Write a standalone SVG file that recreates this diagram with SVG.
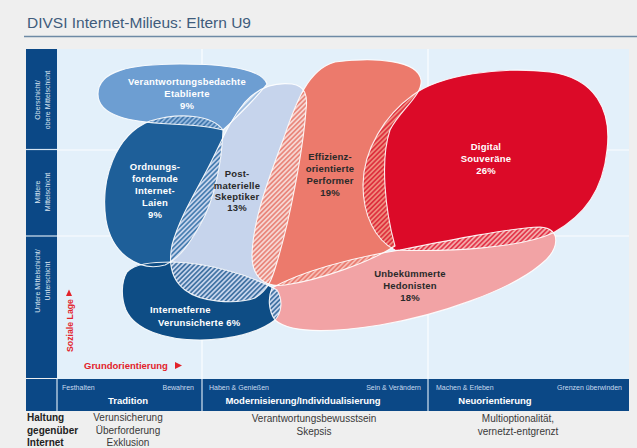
<svg xmlns="http://www.w3.org/2000/svg" width="637" height="448" viewBox="0 0 637 448">
<style>
text{font-family:"Liberation Sans",Arial,sans-serif}
.lbl{font-size:9.5px;font-weight:bold;text-anchor:middle;letter-spacing:0.2px}
.w{fill:#ffffff}
.d{fill:#2a2a2a}
.side{font-size:7px;fill:#dce7f3;text-anchor:middle}
.sm{font-size:7px;fill:#c9dbef}
.hd{font-size:9.5px;font-weight:bold;fill:#ffffff;text-anchor:middle}
.bt{font-size:10px;fill:#3a3a3a;text-anchor:middle}
.bb{font-size:10px;font-weight:bold;fill:#222222}
.red{fill:#e2232a;font-weight:bold;font-size:9.5px}
.ol{fill:none;stroke:#ffffff;stroke-width:1.1;stroke-opacity:0.9}
.grid{stroke:#ffffff;stroke-width:1.2;stroke-opacity:0.85}
.sep{stroke:#d6e4f2;stroke-width:1.2}
</style>
<defs>
<path id="pE" d="M267,84 C262,69 225,64 180,64 C130,64 98,71 98,94 C98,116 130,122 170,124 C195,125 212,127 223,130 C238,116 256,98 267,84 Z"/>
<path id="pL" d="M223,130 C222,160 215,200 200,225 C190,243 180,258 165,265 C140,272 112,255 106,220 C100,180 115,135 150,121 C180,112 212,115 223,130 Z"/>
<path id="pP" d="M292,84 C305,86 308,95 306,110 C303,150 290,220 277,262 C272,280 268,290 255,298 C235,305 200,302 185,290 C172,280 168,265 172,245 C180,215 200,185 212,160 C222,140 230,120 245,102 C258,88 275,82 292,84 Z"/>
<path id="pF" d="M335,62 C375,57 418,60 421,80 C423,95 400,110 390,130 C380,160 385,210 395,246 C370,262 320,280 285,285 C262,288 252,275 252,255 C253,220 268,180 283,140 C293,112 305,70 335,62 Z"/>
<path id="pD" d="M413,95 C440,75 500,66 550,72 C595,78 612,110 607,150 C603,190 585,215 553,233 C520,248 450,252 395,250 C375,240 363,215 363,185 C363,150 385,115 413,95 Z"/>
<path id="pH" d="M272,288 C300,272 350,258 400,250 C450,240 510,228 540,227 C562,228 560,250 540,265 C510,290 440,315 380,325 C330,333 290,333 275,320 C268,310 268,297 272,288 Z"/>
<path id="pI" d="M127,272 C135,264 150,262 172,262 C210,263 250,275 277,290 C283,300 282,312 275,320 C258,333 230,340 200,340 C165,340 135,330 126,310 C121,298 121,282 127,272 Z"/>
<clipPath id="cE"><use href="#pE"/></clipPath>
<clipPath id="cL"><use href="#pL"/></clipPath>
<clipPath id="cP"><use href="#pP"/></clipPath>
<clipPath id="cF"><use href="#pF"/></clipPath>
<clipPath id="cD"><use href="#pD"/></clipPath>
<clipPath id="cH"><use href="#pH"/></clipPath>
<clipPath id="cI"><use href="#pI"/></clipPath>
<pattern id="hEL" width="3.4" height="3.4" patternUnits="userSpaceOnUse" patternTransform="rotate(45)"><rect width="3.4" height="3.4" fill="#93b7de"/><line x1="1.7" y1="0" x2="1.7" y2="3.4" stroke="#2c68a2" stroke-width="1.3"/></pattern>
<pattern id="hEP" width="3.4" height="3.4" patternUnits="userSpaceOnUse" patternTransform="rotate(45)"><rect width="3.4" height="3.4" fill="#9dbde0"/><line x1="1.7" y1="0" x2="1.7" y2="3.4" stroke="#eef3fa" stroke-width="1.3"/></pattern>
<pattern id="hLP" width="3.4" height="3.4" patternUnits="userSpaceOnUse" patternTransform="rotate(45)"><rect width="3.4" height="3.4" fill="#c6d4ec"/><line x1="1.7" y1="0" x2="1.7" y2="3.4" stroke="#2466a0" stroke-width="1.3"/></pattern>
<pattern id="hPF" width="3.4" height="3.4" patternUnits="userSpaceOnUse" patternTransform="rotate(45)"><rect width="3.4" height="3.4" fill="#f6d6d2"/><line x1="1.7" y1="0" x2="1.7" y2="3.4" stroke="#e56f62" stroke-width="1.3"/></pattern>
<pattern id="hFD" width="3.4" height="3.4" patternUnits="userSpaceOnUse" patternTransform="rotate(45)"><rect width="3.4" height="3.4" fill="#ef8a7c"/><line x1="1.7" y1="0" x2="1.7" y2="3.4" stroke="#d9142c" stroke-width="1.3"/></pattern>
<pattern id="hDH" width="3.4" height="3.4" patternUnits="userSpaceOnUse" patternTransform="rotate(45)"><rect width="3.4" height="3.4" fill="#f4aaa9"/><line x1="1.7" y1="0" x2="1.7" y2="3.4" stroke="#de1530" stroke-width="1.3"/></pattern>
<pattern id="hFH" width="3.4" height="3.4" patternUnits="userSpaceOnUse" patternTransform="rotate(45)"><rect width="3.4" height="3.4" fill="#f6bbb3"/><line x1="1.7" y1="0" x2="1.7" y2="3.4" stroke="#e5695c" stroke-width="1.3"/></pattern>
<pattern id="hPI" width="3.4" height="3.4" patternUnits="userSpaceOnUse" patternTransform="rotate(45)"><rect width="3.4" height="3.4" fill="#c6d4ec"/><line x1="1.7" y1="0" x2="1.7" y2="3.4" stroke="#1b568e" stroke-width="1.3"/></pattern>
</defs>

<rect x="0" y="0" width="637" height="448" fill="#efefef"/>
<text x="27" y="28" font-size="15.5" fill="#3f5c7c">DIVSI Internet-Milieus: Eltern U9</text>
<line x1="24" y1="36.5" x2="637" y2="36.5" stroke="#6d8aa5" stroke-width="1.5"/>

<g id="frame">
<rect x="57" y="49" width="572" height="330" fill="#e3f0fa"/>
<line class="grid" x1="57" y1="150" x2="629" y2="150"/>
<line class="grid" x1="57" y1="236" x2="629" y2="236"/>
<line class="grid" x1="202" y1="49" x2="202" y2="379"/>
<line class="grid" x1="428" y1="49" x2="428" y2="379"/>
<rect x="26" y="49" width="31" height="329" fill="#0b4886"/>
<line class="sep" x1="26" y1="149.5" x2="57" y2="149.5"/>
<line class="sep" x1="26" y1="236" x2="57" y2="236"/>
<text class="side" transform="translate(40,100) rotate(-90)">Oberschicht/</text>
<text class="side" transform="translate(49.5,100) rotate(-90)">obere Mittelschicht</text>
<text class="side" transform="translate(40,192) rotate(-90)">Mittlere</text>
<text class="side" transform="translate(49.5,192) rotate(-90)">Mittelschicht</text>
<text class="side" transform="translate(40,281) rotate(-90)">Untere Mittelschicht/</text>
<text class="side" transform="translate(49.5,281) rotate(-90)">Unterschicht</text>
<text class="red" transform="translate(73,352) rotate(-90)" textLength="53" lengthAdjust="spacingAndGlyphs">Soziale Lage</text>
<polygon points="66,296 72,296 69,289.5" fill="#e2232a"/>
<text class="red" x="84" y="369">Grundorientierung</text>
<polygon points="175,362 175,369 182,365.5" fill="#e2232a"/>
</g>

<g id="n-etablierte"><use href="#pE" fill="#6d9ed2"/></g>
<g id="n-postmaterielle"><use href="#pP" fill="#c6d4ec"/></g>
<g id="n-laien"><use href="#pL" fill="#1e5f99"/></g>
<g id="n-performer"><use href="#pF" fill="#ec7a6c"/></g>
<g id="n-souveraene"><use href="#pD" fill="#dc0a28"/></g>
<g id="n-hedonisten"><use href="#pH" fill="#f2a3a5"/></g>
<g id="n-internetferne"><use href="#pI" fill="#0e4d85"/></g>

<g id="overlaps">
<use href="#pL" fill="url(#hEL)" clip-path="url(#cE)"/>
<use href="#pP" fill="url(#hEP)" clip-path="url(#cE)"/>
<use href="#pL" fill="url(#hLP)" clip-path="url(#cP)"/>
<use href="#pF" fill="url(#hPF)" clip-path="url(#cP)"/>
<use href="#pF" fill="url(#hFD)" clip-path="url(#cD)"/>
<use href="#pH" fill="url(#hDH)" clip-path="url(#cD)"/>
<use href="#pH" fill="url(#hFH)" clip-path="url(#cF)"/>
<use href="#pI" fill="url(#hPI)" clip-path="url(#cP)"/>
<use href="#pI" fill="url(#hPI)" clip-path="url(#cH)"/>
</g>

<g id="outlines">
<use href="#pE" class="ol"/><use href="#pL" class="ol"/><use href="#pP" class="ol"/><use href="#pF" class="ol"/><use href="#pD" class="ol"/><use href="#pH" class="ol"/><use href="#pI" class="ol"/>
</g>

<g id="labels">
<text class="lbl w" x="187" y="85">Verantwortungsbedachte</text>
<text class="lbl w" x="187" y="97">Etablierte</text>
<text class="lbl w" x="187" y="109">9%</text>
<text class="lbl w" x="155" y="170">Ordnungs-</text>
<text class="lbl w" x="155" y="182">fordernde</text>
<text class="lbl w" x="155" y="194">Internet-</text>
<text class="lbl w" x="155" y="206">Laien</text>
<text class="lbl w" x="155" y="218">9%</text>
<text class="lbl d" x="237" y="177">Post-</text>
<text class="lbl d" x="237" y="189">materielle</text>
<text class="lbl d" x="237" y="200">Skeptiker</text>
<text class="lbl d" x="237" y="211">13%</text>
<text class="lbl d" x="330" y="160">Effizienz-</text>
<text class="lbl d" x="330" y="172">orientierte</text>
<text class="lbl d" x="330" y="184">Performer</text>
<text class="lbl d" x="330" y="196">19%</text>
<text class="lbl w" x="486" y="150">Digital</text>
<text class="lbl w" x="486" y="162">Souveräne</text>
<text class="lbl w" x="486" y="174">26%</text>
<text class="lbl d" x="410" y="277">Unbekümmerte</text>
<text class="lbl d" x="410" y="289">Hedonisten</text>
<text class="lbl d" x="410" y="301">18%</text>
<text class="lbl w" x="150" y="313" style="text-anchor:start">Internetferne</text>
<text class="lbl w" x="158" y="326" style="text-anchor:start">Verunsicherte  6%</text>
</g>

<g id="axis-bar">
<rect x="26" y="379" width="603" height="32" fill="#0b4886"/>
<line class="sep" x1="57" y1="379" x2="57" y2="411"/>
<line class="sep" x1="202" y1="379" x2="202" y2="411"/>
<line class="sep" x1="428" y1="379" x2="428" y2="411"/>
<text class="sm" x="62" y="390">Festhalten</text>
<text class="sm" x="194" y="390" text-anchor="end">Bewahren</text>
<text class="hd" x="128" y="404">Tradition</text>
<text class="sm" x="209" y="390">Haben &amp; Genießen</text>
<text class="sm" x="421" y="390" text-anchor="end">Sein &amp; Verändern</text>
<text class="hd" x="303" y="404">Modernisierung/Individualisierung</text>
<text class="sm" x="436" y="390">Machen &amp; Erleben</text>
<text class="sm" x="622" y="390" text-anchor="end">Grenzen überwinden</text>
<text class="hd" x="495" y="404">Neuorientierung</text>
</g>

<g id="attitude">
<text class="bb" x="27" y="421">Haltung</text>
<text class="bb" x="27" y="434">gegenüber</text>
<text class="bb" x="27" y="446">Internet</text>
<text class="bt" x="128" y="421">Verunsicherung</text>
<text class="bt" x="128" y="434">Überforderung</text>
<text class="bt" x="128" y="446">Exklusion</text>
<text class="bt" x="314" y="422">Verantwortungsbewusstsein</text>
<text class="bt" x="314" y="435">Skepsis</text>
<text class="bt" x="518" y="422">Multioptionalität,</text>
<text class="bt" x="518" y="435">vernetzt-entgrenzt</text>
</g>
</svg>
